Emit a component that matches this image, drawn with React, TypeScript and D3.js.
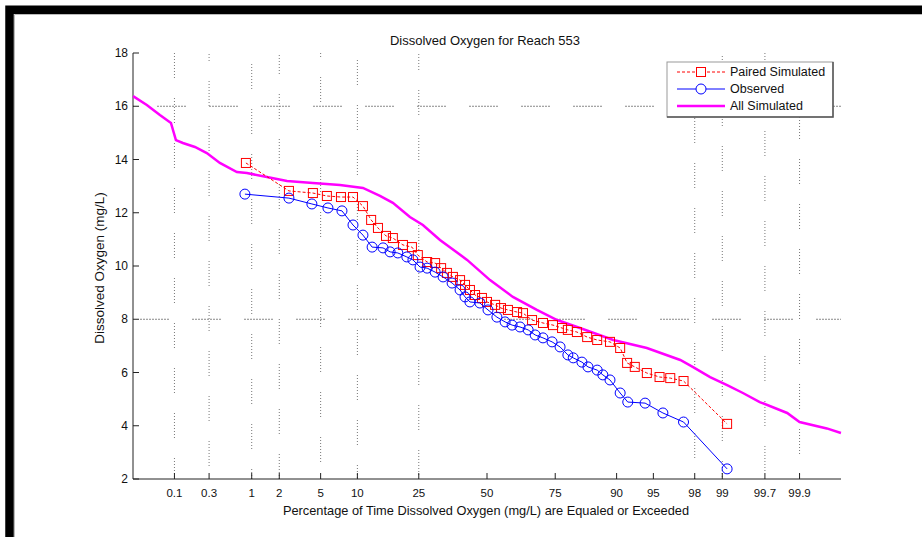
import React from 'react';
import * as d3 from 'd3';

// ---------- data ----------
const probTicks = [0.1, 0.3, 1, 2, 5, 10, 25, 50, 75, 90, 95, 98, 99, 99.7, 99.9];
const probTickLabels = ['0.1', '0.3', '1', '2', '5', '10', '25', '50', '75', '90', '95', '98', '99', '99.7', '99.9'];
const gridProbs = [0.1, 0.3, 1, 2, 5, 10, 25, 98, 99, 99.7, 99.9];
const yTicks = [2, 4, 6, 8, 10, 12, 14, 16, 18];
const refLines = [16, 8];

const allSimPct = [0.0233, 0.0385, 0.061, 0.089, 0.105, 0.132, 0.194, 0.28, 0.413, 0.67, 0.88, 1.48, 2.4, 4.26, 7.3, 11.0, 14.5, 17.6, 22.3, 26.3, 32.1, 42.2, 51.2, 60.1, 68.9, 75.6, 82.1, 89.4, 94.3, 97.2, 97.9, 98.63, 99.12, 99.43, 99.65, 99.85, 99.9, 99.961, 99.9767];
const allSimDO = [16.38, 16.05, 15.67, 15.37, 14.73, 14.62, 14.47, 14.24, 13.87, 13.53, 13.49, 13.34, 13.19, 13.12, 13.04, 12.93, 12.63, 12.37, 11.84, 11.54, 10.98, 10.23, 9.47, 8.84, 8.35, 7.97, 7.67, 7.22, 6.92, 6.47, 6.21, 5.83, 5.53, 5.23, 4.89, 4.48, 4.14, 3.9, 3.73];

const pairedPct = [0.857, 2.51, 4.26, 5.67, 7.44, 9.26, 11.0, 12.6, 14.05, 15.9, 17.6, 20.3, 22.9, 24.7, 27.7, 30.4, 32.5, 34.6, 36.8, 39.5, 41.4, 43.3, 45.3, 48.0, 50.0, 53.2, 55.5, 58.2, 61.7, 63.9, 67.2, 71.0, 74.3, 77.1, 78.8, 81.3, 83.9, 86.2, 88.8, 90.6, 91.7, 92.8, 94.3, 95.6, 96.5, 97.4, 99.12];
const pairedDO = [13.87, 12.82, 12.74, 12.63, 12.59, 12.59, 12.25, 11.73, 11.43, 11.13, 11.05, 10.79, 10.71, 10.41, 10.15, 10.11, 9.92, 9.74, 9.59, 9.47, 9.29, 9.1, 8.91, 8.8, 8.65, 8.54, 8.42, 8.35, 8.27, 8.23, 7.97, 7.86, 7.78, 7.67, 7.6, 7.52, 7.33, 7.22, 7.15, 6.92, 6.36, 6.21, 5.98, 5.83, 5.79, 5.68, 4.07];

const obsPct = [0.834, 2.51, 4.17, 5.79, 7.58, 9.26, 11.0, 12.8, 15.2, 16.9, 18.9, 21.4, 23.2, 25.4, 27.7, 30.4, 33.2, 36.5, 39.5, 41.4, 43.3, 47.2, 50.4, 53.9, 57.1, 59.8, 62.8, 65.8, 68.3, 71.0, 74.0, 76.5, 78.8, 80.3, 82.6, 84.1, 86.2, 87.4, 88.8, 90.6, 91.8, 94.1, 95.9, 97.4, 99.12];
const obsDO = [12.7, 12.55, 12.33, 12.18, 12.07, 11.54, 11.16, 10.71, 10.68, 10.53, 10.49, 10.34, 10.23, 9.96, 9.92, 9.77, 9.59, 9.36, 9.1, 8.84, 8.65, 8.61, 8.35, 8.08, 7.9, 7.78, 7.71, 7.6, 7.41, 7.3, 7.15, 6.96, 6.66, 6.55, 6.39, 6.21, 6.09, 5.91, 5.72, 5.23, 4.89, 4.85, 4.48, 4.14, 2.38];

const legendLabels = ['Paired Simulated', 'Observed', 'All Simulated'];

// ---------- helpers ----------
function qnorm(p: number): number {
  const a = [-3.969683028665376e1, 2.209460984245205e2, -2.759285104469687e2, 1.38357751867269e2, -3.066479806614716e1, 2.506628277459239];
  const b = [-5.447609879822406e1, 1.615858368580409e2, -1.556989798598866e2, 6.680131188771972e1, -1.328068155288572e1];
  const c = [-7.784894002430293e-3, -3.223964580411365e-1, -2.400758277161838, -2.549671013418852, 4.374664141464968, 2.938163982698783];
  const d = [7.784695709041462e-3, 3.224671290700398e-1, 2.445134137142996, 3.754408661907416];
  const pl = 0.02425;
  if (p < pl) {
    const q = Math.sqrt(-2 * Math.log(p));
    return (((((c[0] * q + c[1]) * q + c[2]) * q + c[3]) * q + c[4]) * q + c[5]) / ((((d[0] * q + d[1]) * q + d[2]) * q + d[3]) * q + 1);
  }
  if (p <= 1 - pl) {
    const q = p - 0.5, r = q * q;
    return ((((((a[0] * r + a[1]) * r + a[2]) * r + a[3]) * r + a[4]) * r + a[5]) * q) / (((((b[0] * r + b[1]) * r + b[2]) * r + b[3]) * r + b[4]) * r + 1);
  }
  const q = Math.sqrt(-2 * Math.log(1 - p));
  return -(((((c[0] * q + c[1]) * q + c[2]) * q + c[3]) * q + c[4]) * q + c[5]) / ((((d[0] * q + d[1]) * q + d[2]) * q + d[3]) * q + 1);
}

const W = 922, H = 537;
const L = 133, R = 841, T = 53, B = 479;
const FONT = '"Liberation Sans", Arial, Helvetica, sans-serif';

export default function App() {
  const zScale = d3.scaleLinear().domain([-3.5, 3.5]).range([L, R]);
  const x = (pct: number) => zScale(qnorm(pct / 100));
  const y = d3.scaleLinear().domain([2, 18]).range([B, T]);

  const line = d3.line<[number, number]>().x(d => x(d[0])).y(d => y(d[1]));
  const allPts = allSimPct.map((p, i) => [p, allSimDO[i]] as [number, number]);
  const pairPts = pairedPct.map((p, i) => [p, pairedDO[i]] as [number, number]);
  const obsPts = obsPct.map((p, i) => [p, obsDO[i]] as [number, number]);

  const dotDash = Array(8).fill('1,2').join(',') + ',1,20';
  const hDash = Array(10).fill('2,1').join(',') + ',0,22';

  return (
    <svg width={W} height={H} style={{ position: 'absolute', left: 0, top: 0, background: '#fff' }} fontFamily={FONT}>
      <rect x={0} y={0} width={W} height={H} fill="#fff" />
      {/* frame */}
      <path d={`M9.5,${H + 20} V9.75 H${W + 20}`} fill="none" stroke="#000" strokeWidth={8.5} />
      <path d={`M14.5,${H + 20} V14.5 H${W + 20}`} fill="none" stroke="#bbb" strokeWidth={1} />

      {/* vertical grid */}
      {gridProbs.map((p, i) => (
        <line key={'vg' + i} x1={x(p)} x2={x(p)} y1={T} y2={B} stroke="#777" strokeWidth={1}
          strokeDasharray={dotDash} strokeDashoffset={(i * 17) % 47} />
      ))}
      {/* horizontal reference lines */}
      {refLines.map((v, i) => (
        <line key={'hg' + i} x1={L} x2={R} y1={y(v)} y2={y(v)} stroke="#888" strokeWidth={1}
          strokeDasharray={hDash} strokeDashoffset={i === 0 ? -24 : -7} />
      ))}

      {/* axes */}
      <line x1={L} x2={L} y1={T} y2={B} stroke="#222" strokeWidth={1} />
      <line x1={L} x2={R} y1={B} y2={B} stroke="#222" strokeWidth={1} />
      {yTicks.map(v => (
        <g key={'yt' + v}>
          <line x1={L} x2={L + 6} y1={y(v)} y2={y(v)} stroke="#222" />
          <text x={L - 5} y={y(v) + 4} textAnchor="end" fontSize={12} fill="#111">{v}</text>
        </g>
      ))}
      {probTicks.map((p, i) => (
        <g key={'xt' + i}>
          <line x1={x(p)} x2={x(p)} y1={B} y2={B - 6} stroke="#222" />
          <text x={x(p)} y={B + 18} textAnchor="middle" fontSize={11.5} fill="#111">{probTickLabels[i]}</text>
        </g>
      ))}

      {/* titles */}
      <text x={(L + R) / 2 - 2} y={45} textAnchor="middle" fontSize={13} fill="#111">Dissolved Oxygen for Reach 553</text>
      <text x={(L + R) / 2 - 1} y={515} textAnchor="middle" fontSize={12.8} fill="#111">Percentage of Time Dissolved Oxygen (mg/L) are Equaled or Exceeded</text>
      <text transform={`translate(104,${(T + B) / 2 + 2}) rotate(-90)`} textAnchor="middle" fontSize={13.5} fill="#111">Dissolved Oxygen (mg/L)</text>

      {/* all simulated */}
      <path d={line(allPts) || ''} fill="none" stroke="#ff00ff" strokeWidth={2.5} />
      {/* paired simulated */}
      <path d={line(pairPts) || ''} fill="none" stroke="#ff0000" strokeWidth={1} strokeDasharray="3,2" />
      {pairPts.map((d, i) => (
        <rect key={'ps' + i} x={x(d[0]) - 4.5} y={y(d[1]) - 4.5} width={9} height={9} fill="none" stroke="#ff0000" strokeWidth={1} />
      ))}
      {/* observed */}
      <path d={line(obsPts) || ''} fill="none" stroke="#0000ff" strokeWidth={1} />
      {obsPts.map((d, i) => (
        <circle key={'ob' + i} cx={x(d[0])} cy={y(d[1])} r={5} fill="none" stroke="#0000ff" strokeWidth={1} />
      ))}

      {/* legend */}
      <g>
        <rect x={667} y={62} width={166} height={55} fill="#fff" stroke="#999" strokeWidth={1} />
        <path d="M833,62 V117 H667" fill="none" stroke="#555" strokeWidth={1.5} />
        <line x1={677} x2={725} y1={72} y2={72} stroke="#ff0000" strokeDasharray="3,2" />
        <rect x={696.5} y={67.5} width={9} height={9} fill="#fff" stroke="#ff0000" />
        <line x1={677} x2={725} y1={89} y2={89} stroke="#0000ff" />
        <circle cx={701} cy={89} r={5} fill="#fff" stroke="#0000ff" />
        <line x1={677} x2={725} y1={106} y2={106} stroke="#ff00ff" strokeWidth={2.5} />
        {legendLabels.map((t, i) => (
          <text key={'lg' + i} x={730} y={76 + i * 17} fontSize={12.5} fill="#111">{t}</text>
        ))}
      </g>
    </svg>
  );
}
